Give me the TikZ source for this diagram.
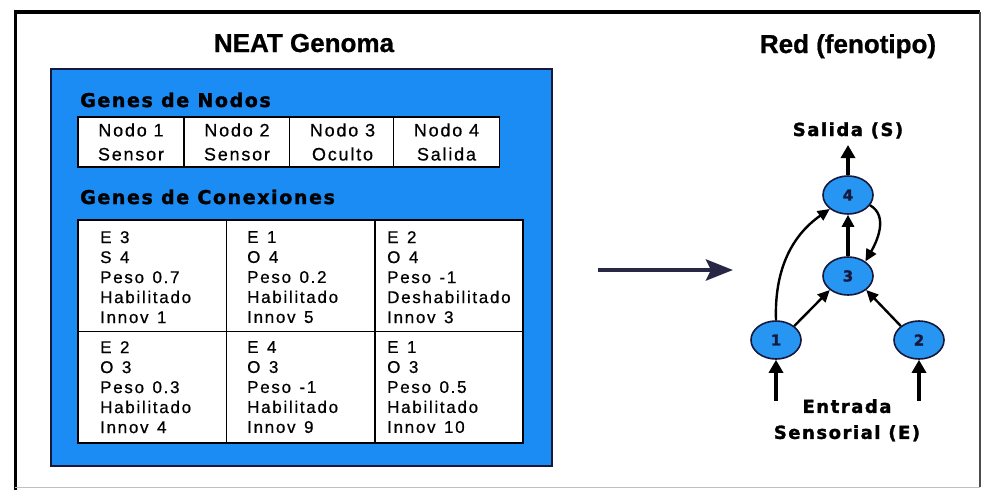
\documentclass[tikz,border=0pt]{standalone}
\usepackage{fontspec}
\setmainfont{Liberation Sans}
\newfontfamily\spacedfont[LetterSpace=10, FakeBold=0.6]{Liberation Sans}
\newfontfamily\heavyfont[LetterSpace=8.5, BoldFeatures={FakeBold=1.6}]{DejaVu Sans}
\newfontfamily\titlefont[BoldFeatures={FakeBold=0.8}]{Liberation Sans}
\newcommand{\widespacing}{\spaceskip=8.5pt\relax}
\usetikzlibrary{arrows.meta,shapes.geometric}
\definecolor{panelblue}{RGB}{28,140,245}
\definecolor{nodeblue}{RGB}{38,150,242}
\definecolor{navy}{RGB}{22,24,60}
\definecolor{arrowdark}{RGB}{40,40,70}
\tikzset{
  titletext/.style={font=\titlefont\bfseries\fontsize{26}{30}\selectfont, anchor=base, inner sep=0},
  headtext/.style={font=\heavyfont\bfseries\fontsize{19}{22}\selectfont, anchor=base west, inner sep=0},
  nodecell/.style={draw=black, line width=1.5, fill=white, minimum width=106, minimum height=50, inner sep=0, align=center, font=\spacedfont\fontsize{18}{24}\selectfont},
  conncell/.style={draw=black, line width=1.2, fill=white, minimum width=148, minimum height=111, inner sep=0, anchor=north west},
  conntext/.style={anchor=north west, inner sep=0, align=left, font=\spacedfont\fontsize{17}{20}\selectfont},
  netnode/.style={ellipse, draw=navy, line width=1.6, fill=nodeblue, minimum width=50, minimum height=38, inner sep=0, font=\heavyfont\bfseries\fontsize{15}{16}\selectfont, text=navy},
  thickarrow/.style={line width=4, -{Triangle[length=13pt,width=14pt]}},
  thinarrow/.style={line width=2.4, -{Triangle[length=12pt,width=11pt]}},
  labeltext/.style={font=\heavyfont\bfseries\fontsize{18}{26}\selectfont, inner sep=0, align=center}
}
\begin{document}
\begin{tikzpicture}[x=1pt,y=-1pt]
\useasboundingbox (0,0) rectangle (982,490);
\fill[white] (0,0) rectangle (982,490);
% outer frame
\draw[line width=3.5, black] (13.5,12) -- (980,12);
\draw[line width=3, black] (15,12) -- (15,490);
\draw[line width=1.5, black!70] (980,12) -- (980,487);
\draw[line width=1, black!25] (15,487) -- (980,487);

% titles
\node[titletext] (t1) at (304,52) {NEAT Genoma};
\node[titletext] (t2) at (848,53) {Red (fenotipo)};

% blue panel
\draw[fill=panelblue, draw=navy, line width=1.5] (51,69) rectangle (552,466);
\node[headtext] (h1) at (80,107) {Genes de Nodos};
\node[headtext] (h2) at (80,204) {Genes de Conexiones};

% node genes
\node[nodecell] (g1) at (131,142) {Nodo 1\\Sensor};
\node[nodecell] (g2) at (237,142) {Nodo 2\\Sensor};
\node[nodecell] (g3) at (342.5,142) {Nodo 3\\Oculto};
\node[nodecell] (g4) at (446.5,142) {Nodo 4\\Salida};

% connection genes
\node[conncell] (c11) at (78,220) {};
\node[conncell] (c12) at (226,220) {};
\node[conncell] (c13) at (375,220) {};
\node[conncell] (c21) at (78,331) {};
\node[conncell] (c22) at (226,331) {};
\node[conncell] (c23) at (375,331) {};
\draw[line width=1.5] (78,220) rectangle (523,443);

\node[conntext] (x11) at (100,231) {\widespacing E 3\\\widespacing S 4\\\widespacing Peso 0.7\\Habilitado\\\widespacing Innov 1};
\node[conntext] (x12) at (247,231) {\widespacing E 1\\\widespacing O 4\\\widespacing Peso 0.2\\Habilitado\\\widespacing Innov 5};
\node[conntext] (x13) at (387,231) {\widespacing E 2\\\widespacing O 4\\\widespacing Peso -1\\Deshabilitado\\\widespacing Innov 3};
\node[conntext] (x21) at (100,341) {\widespacing E 2\\\widespacing O 3\\\widespacing Peso 0.3\\Habilitado\\\widespacing Innov 4};
\node[conntext] (x22) at (247,341) {\widespacing E 4\\\widespacing O 3\\\widespacing Peso -1\\Habilitado\\\widespacing Innov 9};
\node[conntext] (x23) at (387,341) {\widespacing E 1\\\widespacing O 3\\\widespacing Peso 0.5\\Habilitado\\\widespacing Innov 10};

% big arrow
\coordinate (a0) at (598,270);
\coordinate (a1) at (733,270);
\draw[line width=4.5, arrowdark, -{Stealth[length=27pt,width=21pt,inset=5pt]}] (a0) -- (a1);

% network
\node[netnode] (n4) at (848,195) {4};
\node[netnode] (n3) at (848,276) {3};
\node[netnode] (n1) at (776,340) {1};
\node[netnode] (n2) at (919,340) {2};

\coordinate (in1) at (776,401);
\coordinate (in2) at (919,401);
\coordinate (out) at (848,145);

\node[labeltext, anchor=base] (sal) at (848,136) {Salida (S)};
\node[labeltext, anchor=north] (ent) at (847,399) {Entrada\\Sensorial (E)};

\draw[thickarrow] (in1) -- (n1.south);
\draw[thickarrow] (in2) -- (n2.south);
\draw[thickarrow] (n4.north) -- (out);
\draw[line width=3.2, -{Triangle[length=12pt,width=12pt]}] (n3.north) -- (n4.south);
\draw[thinarrow] (n1.north east) -- (n3.south west);
\draw[thinarrow] (n2.north west) -- (n3.south east);
\draw[thinarrow] (n1.north) to[out=92,in=215] (n4.south west);
\draw[thinarrow] (n4.-25) to[out=-30,in=60] (n3.40);
\end{tikzpicture}
\end{document}
